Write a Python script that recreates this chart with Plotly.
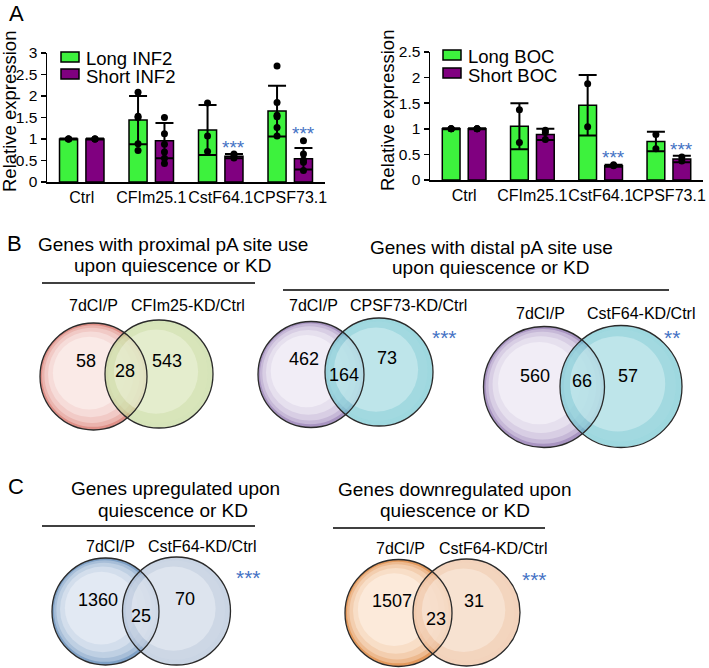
import plotly.graph_objects as go

W, H = 709, 668
FONT = "Liberation Sans, Arial, sans-serif"
GREEN = "#3DF23D"
PURPLE = "#800080"
STAR = "#4472C4"

# ---------------- data: panel A ----------------
categories = ["Ctrl", "CFIm25.1", "CstF64.1", "CPSF73.1"]

long_inf2 = [1.0, 1.44, 1.21, 1.65]
long_inf2_sd = [0.01, 0.56, 0.58, 0.59]
long_inf2_pts = [[1.0, 1.0, 1.0], [2.09, 1.53, 1.50, 0.89, 0.73], [1.84, 1.07, 0.71],
                 [2.70, 1.85, 1.55, 1.52, 1.27, 1.07]]
short_inf2 = [1.0, 0.96, 0.60, 0.54]
short_inf2_sd = [0.01, 0.41, 0.05, 0.25]
short_inf2_pts = [[1.0, 1.0, 1.0], [1.50, 1.12, 0.88, 0.70, 0.55, 0.43], [0.65, 0.60, 0.56],
                  [0.96, 0.65, 0.51, 0.46, 0.27]]
inf2_star_y = [None, None, 0.87, 1.19]

long_boc = [1.0, 1.05, 1.46, 0.75]
long_boc_sd = [0.01, 0.45, 0.59, 0.19]
long_boc_pts = [[1.0, 1.0, 1.0], [1.37, 0.73], [1.88, 1.04], [0.89, 0.61]]
short_boc = [1.0, 0.89, 0.28, 0.41]
short_boc_sd = [0.01, 0.11, 0.02, 0.065]
short_boc_pts = [[1.0, 1.0, 1.0], [0.97, 0.93, 0.79], [0.30, 0.28], [0.45, 0.37]]
boc_star_y = [None, None, 0.49, 0.66]

inf2_ticks = [0, 0.5, 1, 1.5, 2, 2.5, 3]
boc_ticks = [0, 0.5, 1, 1.5, 2, 2.5]

# ---------------- data: panels B and C (Venn) ----------------
venn_left_label = ["7dCI/P", "7dCI/P", "7dCI/P", "7dCI/P", "7dCI/P"]
venn_right_label = ["CFIm25-KD/Ctrl", "CPSF73-KD/Ctrl", "CstF64-KD/Ctrl",
                    "CstF64-KD/Ctrl", "CstF64-KD/Ctrl"]
venn_only_left = [58, 462, 560, 1360, 1507]
venn_overlap = [28, 164, 66, 25, 23]
venn_only_right = [543, 73, 57, 70, 31]
venn_sig = ["", "***", "**", "***", "***"]

# ---------------- helpers ----------------
def X(px):
    return px / W


def Y(py):
    return 1 - py / H


fig = go.Figure()
OFF, BW = 0.19, 0.26
idx = list(range(len(categories)))


def add_bars(long_v, long_sd, long_p, short_v, short_sd, short_p, xa, ya):
    for vals, sd, pts, col, sgn in [(long_v, long_sd, long_p, GREEN, -1),
                                    (short_v, short_sd, short_p, PURPLE, 1)]:
        fig.add_trace(go.Bar(
            x=[i + sgn * OFF for i in idx], y=vals, width=BW,
            marker=dict(color=col, line=dict(color="black", width=1.5)),
            error_y=dict(type="data", array=sd, visible=True, color="black",
                         thickness=2, width=9),
            xaxis=xa, yaxis=ya, showlegend=False, hoverinfo="skip"))
        xs, ys = [], []
        for i, p in zip(idx, pts):
            xs += [i + sgn * OFF] * len(p)
            ys += p
        fig.add_trace(go.Scatter(
            x=xs, y=ys, mode="markers",
            marker=dict(color="black", size=7),
            xaxis=xa, yaxis=ya, showlegend=False, hoverinfo="skip"))


add_bars(long_inf2, long_inf2_sd, long_inf2_pts, short_inf2, short_inf2_sd, short_inf2_pts, "x", "y")
add_bars(long_boc, long_boc_sd, long_boc_pts, short_boc, short_boc_sd, short_boc_pts, "x2", "y2")

xcommon = dict(range=[-0.5, 3.5], tickmode="array", tickvals=idx, ticktext=categories,
               tickangle=0, showline=True, linecolor="black", linewidth=1.5, ticks="",
               showgrid=False, zeroline=False, tickfont=dict(size=16, color="black"),
               automargin=False, fixedrange=True)
ycommon = dict(tickmode="array", ticks="outside", ticklen=5, tickwidth=1.5,
               tickcolor="black", showline=True, linecolor="black", linewidth=1.5,
               showgrid=False, zeroline=False, tickfont=dict(size=15.5, color="black"),
               automargin=False, fixedrange=True)

fig.update_layout(
    xaxis=dict(domain=[X(47), X(325)], anchor="y", **xcommon),
    yaxis=dict(domain=[Y(182), Y(53)], anchor="x", range=[0, 3],
               tickvals=inf2_ticks, ticktext=[f"{t:g}" for t in inf2_ticks], **ycommon),
    xaxis2=dict(domain=[X(430), X(703)], anchor="y2", **xcommon),
    yaxis2=dict(domain=[Y(180), Y(52)], anchor="x2", range=[0, 2.5],
                tickvals=boc_ticks, ticktext=[f"{t:g}" for t in boc_ticks], **ycommon),
)

annotations = []
shapes = []


def txt(x, y, s, size, color="black", xanchor="center", angle=0, yshift=0):
    annotations.append(dict(x=X(x), y=Y(y), xref="paper", yref="paper", text=s,
                            showarrow=False, xanchor=xanchor, yanchor="middle",
                            textangle=angle, yshift=yshift,
                            font=dict(size=size, color=color, family=FONT)))


# significance stars on bars
for sy, xr, yr in [(inf2_star_y, "x", "y"), (boc_star_y, "x2", "y2")]:
    for i, v in zip(idx, sy):
        if v is not None:
            annotations.append(dict(x=i + OFF, y=v, xref=xr, yref=yr, text="***",
                                    showarrow=False, yshift=-3,
                                    font=dict(size=19, color=STAR, family=FONT)))

# y-axis titles
txt(9, 112, "Relative expression", 18.5, angle=-90)
txt(387, 111, "Relative expression", 18.5, angle=-90)

# panel letters
txt(16, 13, "A", 22)
txt(15, 243, "B", 22)
txt(16, 486, "C", 22)

# legends
legend_specs = [
    (61, 52, 84, 59, "Long INF2", GREEN), (61, 69, 84, 76, "Short INF2", PURPLE),
    (443, 50, 466, 57, "Long BOC", GREEN), (443, 68, 466, 75, "Short BOC", PURPLE),
]
for bx, by, tx, ty, label, col in legend_specs:
    shapes.append(dict(type="rect", xref="paper", yref="paper", x0=X(bx), x1=X(bx + 18),
                       y0=Y(by + 10), y1=Y(by), fillcolor=col,
                       line=dict(color="black", width=1.5)))
    txt(tx, ty, label, 18.5, xanchor="left")

# Venn section titles and underlines
txt(173, 244, "Genes with proximal pA site use", 19)
txt(173, 265, "upon quiescence or KD", 19)
shapes.append(dict(type="line", xref="paper", yref="paper", x0=X(42), x1=X(255),
                   y0=Y(283), y1=Y(283), line=dict(color="black", width=1.5)))
txt(491, 247, "Genes with distal pA site use", 19)
txt(491, 268, "upon quiescence or KD", 19)
shapes.append(dict(type="line", xref="paper", yref="paper", x0=X(283), x1=X(669),
                   y0=Y(290), y1=Y(290), line=dict(color="black", width=1.5)))
txt(175, 488, "Genes upregulated upon", 19)
txt(173, 510, "quiescence or KD", 19)
shapes.append(dict(type="line", xref="paper", yref="paper", x0=X(42), x1=X(255),
                   y0=Y(526), y1=Y(526), line=dict(color="black", width=1.5)))
txt(454, 489, "Genes downregulated upon", 19)
txt(455, 510, "quiescence or KD", 19)
shapes.append(dict(type="line", xref="paper", yref="paper", x0=X(333), x1=X(545),
                   y0=Y(528), y1=Y(528), line=dict(color="black", width=1.5)))

# Venn geometry (layout)
venn_geom = [
    dict(L=(93.5, 376.5, 53.5), R=(159, 374, 54), lab=((93, 305), (188, 305)),
         num=((86, 361), (125, 371), (167, 361)), star=None,
         cl=("#DF9088", "#FAEAE7"), cr=("#BDD48E", "#F3F7E4")),
    dict(L=(311, 374.5, 53), R=(379, 372, 54), lab=((313, 305), (408, 305)),
         num=((304, 359), (344, 375), (387, 358)), star=(444, 334),
         cl=("#A995C2", "#F1EDF6"), cr=("#62C0CC", "#E0F3F6")),
    dict(L=(544, 387, 60.5), R=(621, 386.5, 61), lab=((540, 313), (641, 313)),
         num=((535, 376), (582, 381), (628, 376)), star=(672, 334),
         cl=("#A995C2", "#F1EDF6"), cr=("#62C0CC", "#E0F3F6")),
    dict(L=(105.5, 611.5, 53.5), R=(176.5, 611, 54), lab=((110, 546), (202, 546)),
         num=((98, 600), (141, 616), (185, 599)), star=(248, 574),
         cl=("#7FA1C6", "#E2E9F3"), cr=("#AABBD3", "#F1F4F8")),
    dict(L=(398.5, 613, 53.5), R=(466.5, 612.5, 53.5), lab=((400, 548), (493, 548)),
         num=((392, 601), (436, 619), (474, 601)), star=(534, 576),
         cl=("#E39A5E", "#FCEADA"), cr=("#EBB893", "#FDF1E8")),
]


def mix(c1, c2, t):
    a = [int(c1[i:i + 2], 16) for i in (1, 3, 5)]
    b = [int(c2[i:i + 2], 16) for i in (1, 3, 5)]
    return "#" + "".join(f"{round(a[j] + (b[j] - a[j]) * t):02x}" for j in range(3))


def circle(cx, cy, r, fill, opacity, line=None):
    d = dict(type="circle", xref="paper", yref="paper", layer="below",
             x0=X(cx - r), x1=X(cx + r), y0=Y(cy + r), y1=Y(cy - r),
             opacity=opacity, fillcolor=fill if fill else "rgba(0,0,0,0)")
    d["line"] = line if line else dict(width=0)
    shapes.append(d)


LEFT_STEPS = [(1.0, 0.0), (0.95, 0.4), (0.89, 0.65), (0.8, 0.85), (0.68, 1.0)]
RIGHT_STEPS = [(1.0, 0.0, 0.62), (0.92, 0.55, 0.45), (0.78, 1.0, 0.45)]

for k, g in enumerate(venn_geom):
    cx, cy, r = g["L"]
    for f, t in LEFT_STEPS:
        circle(cx - (1 - f) * 0.25 * r, cy - (1 - f) * 0.2 * r, f * r,
               mix(g["cl"][0], g["cl"][1], t), 1.0)
    cx, cy, r = g["R"]
    for f, t, op in RIGHT_STEPS:
        circle(cx - (1 - f) * 0.25 * r, cy - (1 - f) * 0.2 * r, f * r,
               mix(g["cr"][0], g["cr"][1], t), op)
    for (cx, cy, r) in [g["L"], g["R"]]:
        circle(cx, cy, r, None, 1.0, line=dict(color="#2a2a2a", width=1.3))
    (lx, ly), (rx, ry) = g["lab"]
    txt(lx, ly, venn_left_label[k], 16)
    txt(rx, ry, venn_right_label[k], 16)
    (ax, ay), (ox, oy), (bx, by) = g["num"]
    txt(ax, ay, str(venn_only_left[k]), 18)
    txt(ox, oy, str(venn_overlap[k]), 18)
    txt(bx, by, str(venn_only_right[k]), 18)
    if g["star"] and venn_sig[k]:
        sx, sy = g["star"]
        txt(sx, sy, venn_sig[k], 21, color=STAR, yshift=-3)

fig.update_layout(
    width=W, height=H, margin=dict(l=0, r=0, t=0, b=0),
    paper_bgcolor="white", plot_bgcolor="rgba(0,0,0,0)",
    template="none", barmode="overlay", showlegend=False, hovermode=False,
    font=dict(family=FONT, color="black"),
    annotations=annotations, shapes=shapes,
)

fig.write_html("out.html", config={"displayModeBar": False, "staticPlot": True},
               post_script="document.body.style.margin='0';")
